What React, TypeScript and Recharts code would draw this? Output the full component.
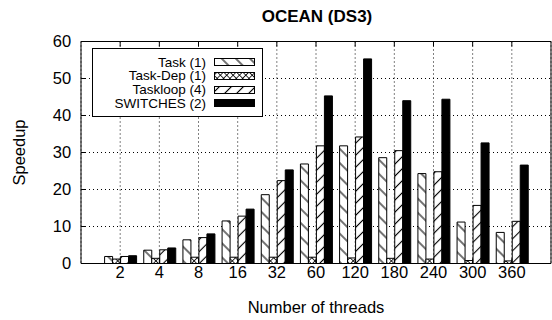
import React from 'react';
import { BarChart, Bar, XAxis, YAxis, CartesianGrid } from 'recharts';

const THREADS = ['2', '4', '8', '16', '32', '60', '120', '180', '240', '300', '360'];
const TASK = [1.9, 3.6, 6.4, 11.5, 18.6, 26.9, 31.8, 28.6, 24.3, 11.2, 8.4];
const TASK_DEP = [1.2, 1.4, 1.7, 1.7, 1.7, 1.7, 1.5, 1.4, 1.2, 0.8, 0.7];
const TASKLOOP = [1.9, 3.7, 7.0, 12.8, 22.4, 31.8, 34.2, 30.5, 24.8, 15.7, 11.4];
const SWITCHES = [2.1, 4.2, 8.0, 14.7, 25.3, 45.3, 55.3, 44.0, 44.4, 32.6, 26.6];
const Y_TICKS = [0, 10, 20, 30, 40, 50, 60];

const SERIES = [
  { key: 'task', name: 'Task (1)', fill: 'url(#pat-task)' },
  { key: 'taskDep', name: 'Task-Dep (1)', fill: 'url(#pat-dep)' },
  { key: 'taskloop', name: 'Taskloop (4)', fill: 'url(#pat-loop)' },
  { key: 'switches', name: 'SWITCHES (2)', fill: '#000' },
];

const DATA = THREADS.map((t, i) => ({
  threads: t,
  task: TASK[i],
  taskDep: TASK_DEP[i],
  taskloop: TASKLOOP[i],
  switches: SWITCHES[i],
}));

const FONT = '"Liberation Sans", Arial, sans-serif';
const W = 552;
const H = 320;

function Patterns() {
  return (
    <svg width={0} height={0} style={{ position: 'absolute' }}>
      <defs>
        <pattern id="pat-task" patternUnits="userSpaceOnUse" width={10} height={10} patternTransform="rotate(-45)">
          <rect width={10} height={10} fill="#fff" />
          <line x1={5} y1={0} x2={5} y2={10} stroke="#000" strokeWidth={1.1} />
        </pattern>
        <pattern id="pat-loop" patternUnits="userSpaceOnUse" width={8.5} height={8.5} patternTransform="rotate(45)">
          <rect width={8.5} height={8.5} fill="#fff" />
          <line x1={4.25} y1={0} x2={4.25} y2={8.5} stroke="#000" strokeWidth={1.1} />
        </pattern>
        <pattern id="pat-dep" patternUnits="userSpaceOnUse" width={4.5} height={4.5} patternTransform="rotate(45)">
          <rect width={4.5} height={4.5} fill="#fff" />
          <line x1={2.25} y1={0} x2={2.25} y2={4.5} stroke="#000" strokeWidth={0.8} />
          <line x1={0} y1={2.25} x2={4.5} y2={2.25} stroke="#000" strokeWidth={0.8} />
        </pattern>
      </defs>
    </svg>
  );
}

function KeyBox() {
  return (
    <div
      style={{
        position: 'absolute',
        left: 92,
        top: 48,
        width: 171,
        height: 69,
        boxSizing: 'border-box',
        border: '1px solid #000',
        background: '#fff',
        paddingTop: 6.5,
        fontFamily: FONT,
        fontSize: 13.5,
        color: '#000',
      }}
    >
      {SERIES.map((s) => (
        <div
          key={s.key}
          style={{ display: 'flex', alignItems: 'center', justifyContent: 'flex-end', height: 13.7, paddingRight: 7 }}
        >
          <span style={{ lineHeight: '13.7px', whiteSpace: 'nowrap' }}>{s.name}</span>
          <svg width={41} height={8} style={{ marginLeft: 8, display: 'block' }}>
            <rect x={0.5} y={0.5} width={40} height={7} fill={s.fill} stroke="#000" strokeWidth={1} />
          </svg>
        </div>
      ))}
    </div>
  );
}

export default function App() {
  const tickStyle = { fontSize: 16.5, fill: '#000', fontFamily: FONT };
  return (
    <div style={{ position: 'absolute', left: 0, top: 0, width: W, height: H, background: '#fff', fontFamily: FONT }}>
      <Patterns />
      <div
        style={{
          position: 'absolute',
          left: 167,
          top: 8,
          width: 300,
          textAlign: 'center',
          fontSize: 17,
          lineHeight: '17px',
          fontWeight: 700,
          color: '#000',
        }}
      >
        OCEAN (DS3)
      </div>
      <BarChart
        width={W}
        height={H}
        data={DATA}
        margin={{ top: 40.5, right: 0, bottom: 0, left: 0 }}
        barSize={8}
        barGap={0}
        style={{ position: 'absolute', left: 0, top: 0 }}
      >
        <CartesianGrid stroke="#000" strokeDasharray="1 3" strokeWidth={1} />
        <XAxis
          dataKey="threads"
          height={56.5}
          padding={{ left: 19.6, right: 19.6 }}
          interval={0}
          stroke="#000"
          tickSize={-5}
          tickMargin={8}
          tick={tickStyle}
          label={{ value: 'Number of threads', position: 'insideBottom', offset: 7, fill: '#000', fontSize: 16.5, fontFamily: FONT }}
        />
        <XAxis
          xAxisId="top"
          dataKey="threads"
          orientation="top"
          height={1}
          padding={{ left: 19.6, right: 19.6 }}
          interval={0}
          stroke="#000"
          tickSize={-5}
          tickFormatter={() => ''}
        />
        <YAxis
          width={81}
          domain={[0, 60]}
          ticks={Y_TICKS}
          interval={0}
          stroke="#000"
          tickSize={-5}
          tickMargin={14.8}
          tick={tickStyle}
          label={{
            value: 'Speedup',
            angle: -90,
            position: 'insideLeft',
            offset: 19,
            fill: '#000',
            fontSize: 16.5,
            fontFamily: FONT,
            style: { textAnchor: 'middle' },
          }}
        />
        <YAxis
          yAxisId="right"
          orientation="right"
          width={1}
          domain={[0, 60]}
          ticks={Y_TICKS}
          interval={0}
          stroke="#000"
          tickSize={-5}
          tickFormatter={() => ''}
        />
        {SERIES.map((s) => (
          <Bar
            key={s.key}
            dataKey={s.key}
            name={s.name}
            fill={s.fill}
            stroke="#000"
            strokeWidth={1}
            isAnimationActive={false}
          />
        ))}
      </BarChart>
      <KeyBox />
    </div>
  );
}
